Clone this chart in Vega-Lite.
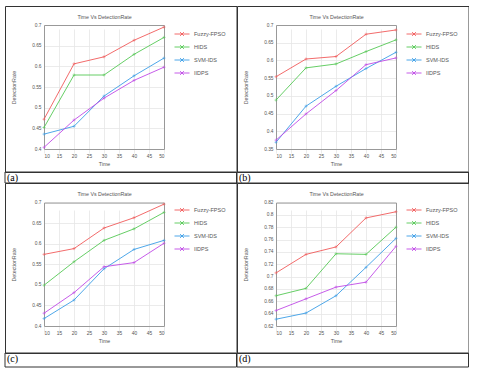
{
  "$schema": "https://vega.github.io/schema/vega-lite/v6.json",
  "background": "white",
  "padding": {"left": 4, "top": 5, "right": 0, "bottom": 0},
  "datasets": {
    "rates": [
      {"p": "a", "m": "Fuzzy-FPSO", "t": 10, "r": 0.472},
      {"p": "a", "m": "Fuzzy-FPSO", "t": 20, "r": 0.606},
      {"p": "a", "m": "Fuzzy-FPSO", "t": 30, "r": 0.623},
      {"p": "a", "m": "Fuzzy-FPSO", "t": 40, "r": 0.663},
      {"p": "a", "m": "Fuzzy-FPSO", "t": 50, "r": 0.695},
      {"p": "a", "m": "HIDS", "t": 10, "r": 0.452},
      {"p": "a", "m": "HIDS", "t": 20, "r": 0.579},
      {"p": "a", "m": "HIDS", "t": 30, "r": 0.579},
      {"p": "a", "m": "HIDS", "t": 40, "r": 0.629},
      {"p": "a", "m": "HIDS", "t": 50, "r": 0.670},
      {"p": "a", "m": "SVM-IDS", "t": 10, "r": 0.436},
      {"p": "a", "m": "SVM-IDS", "t": 20, "r": 0.455},
      {"p": "a", "m": "SVM-IDS", "t": 30, "r": 0.528},
      {"p": "a", "m": "SVM-IDS", "t": 40, "r": 0.577},
      {"p": "a", "m": "SVM-IDS", "t": 50, "r": 0.620},
      {"p": "a", "m": "IIDPS", "t": 10, "r": 0.404},
      {"p": "a", "m": "IIDPS", "t": 20, "r": 0.470},
      {"p": "a", "m": "IIDPS", "t": 30, "r": 0.523},
      {"p": "a", "m": "IIDPS", "t": 40, "r": 0.566},
      {"p": "a", "m": "IIDPS", "t": 50, "r": 0.598},
      {"p": "b", "m": "Fuzzy-FPSO", "t": 10, "r": 0.554},
      {"p": "b", "m": "Fuzzy-FPSO", "t": 20, "r": 0.604},
      {"p": "b", "m": "Fuzzy-FPSO", "t": 30, "r": 0.611},
      {"p": "b", "m": "Fuzzy-FPSO", "t": 40, "r": 0.674},
      {"p": "b", "m": "Fuzzy-FPSO", "t": 50, "r": 0.686},
      {"p": "b", "m": "HIDS", "t": 10, "r": 0.488},
      {"p": "b", "m": "HIDS", "t": 20, "r": 0.579},
      {"p": "b", "m": "HIDS", "t": 30, "r": 0.590},
      {"p": "b", "m": "HIDS", "t": 40, "r": 0.625},
      {"p": "b", "m": "HIDS", "t": 50, "r": 0.658},
      {"p": "b", "m": "SVM-IDS", "t": 10, "r": 0.369},
      {"p": "b", "m": "SVM-IDS", "t": 20, "r": 0.471},
      {"p": "b", "m": "SVM-IDS", "t": 30, "r": 0.527},
      {"p": "b", "m": "SVM-IDS", "t": 40, "r": 0.577},
      {"p": "b", "m": "SVM-IDS", "t": 50, "r": 0.623},
      {"p": "b", "m": "IIDPS", "t": 10, "r": 0.375},
      {"p": "b", "m": "IIDPS", "t": 20, "r": 0.449},
      {"p": "b", "m": "IIDPS", "t": 30, "r": 0.515},
      {"p": "b", "m": "IIDPS", "t": 40, "r": 0.588},
      {"p": "b", "m": "IIDPS", "t": 50, "r": 0.607},
      {"p": "c", "m": "Fuzzy-FPSO", "t": 10, "r": 0.574},
      {"p": "c", "m": "Fuzzy-FPSO", "t": 20, "r": 0.588},
      {"p": "c", "m": "Fuzzy-FPSO", "t": 30, "r": 0.638},
      {"p": "c", "m": "Fuzzy-FPSO", "t": 40, "r": 0.663},
      {"p": "c", "m": "Fuzzy-FPSO", "t": 50, "r": 0.696},
      {"p": "c", "m": "HIDS", "t": 10, "r": 0.499},
      {"p": "c", "m": "HIDS", "t": 20, "r": 0.556},
      {"p": "c", "m": "HIDS", "t": 30, "r": 0.608},
      {"p": "c", "m": "HIDS", "t": 40, "r": 0.636},
      {"p": "c", "m": "HIDS", "t": 50, "r": 0.676},
      {"p": "c", "m": "SVM-IDS", "t": 10, "r": 0.418},
      {"p": "c", "m": "SVM-IDS", "t": 20, "r": 0.463},
      {"p": "c", "m": "SVM-IDS", "t": 30, "r": 0.539},
      {"p": "c", "m": "SVM-IDS", "t": 40, "r": 0.586},
      {"p": "c", "m": "SVM-IDS", "t": 50, "r": 0.608},
      {"p": "c", "m": "IIDPS", "t": 10, "r": 0.431},
      {"p": "c", "m": "IIDPS", "t": 20, "r": 0.481},
      {"p": "c", "m": "IIDPS", "t": 30, "r": 0.544},
      {"p": "c", "m": "IIDPS", "t": 40, "r": 0.554},
      {"p": "c", "m": "IIDPS", "t": 50, "r": 0.601},
      {"p": "d", "m": "Fuzzy-FPSO", "t": 10, "r": 0.706},
      {"p": "d", "m": "Fuzzy-FPSO", "t": 20, "r": 0.736},
      {"p": "d", "m": "Fuzzy-FPSO", "t": 30, "r": 0.748},
      {"p": "d", "m": "Fuzzy-FPSO", "t": 40, "r": 0.795},
      {"p": "d", "m": "Fuzzy-FPSO", "t": 50, "r": 0.805},
      {"p": "d", "m": "HIDS", "t": 10, "r": 0.669},
      {"p": "d", "m": "HIDS", "t": 20, "r": 0.681},
      {"p": "d", "m": "HIDS", "t": 30, "r": 0.737},
      {"p": "d", "m": "HIDS", "t": 40, "r": 0.736},
      {"p": "d", "m": "HIDS", "t": 50, "r": 0.780},
      {"p": "d", "m": "SVM-IDS", "t": 10, "r": 0.631},
      {"p": "d", "m": "SVM-IDS", "t": 20, "r": 0.641},
      {"p": "d", "m": "SVM-IDS", "t": 30, "r": 0.669},
      {"p": "d", "m": "SVM-IDS", "t": 40, "r": 0.715},
      {"p": "d", "m": "SVM-IDS", "t": 50, "r": 0.762},
      {"p": "d", "m": "IIDPS", "t": 10, "r": 0.645},
      {"p": "d", "m": "IIDPS", "t": 20, "r": 0.664},
      {"p": "d", "m": "IIDPS", "t": 30, "r": 0.683},
      {"p": "d", "m": "IIDPS", "t": 40, "r": 0.691},
      {"p": "d", "m": "IIDPS", "t": 50, "r": 0.749}
    ],
    "blank": [{"k": 1}]
  },
  "columns": 2,
  "spacing": 0,
  "bounds": "flush",
  "resolve": {"scale": {"x": "independent", "y": "independent", "color": "independent"}, "legend": {"color": "independent"}, "axis": {"x": "independent", "y": "independent"}},
  "concat": [
    {
      "width": 231.5, "height": 166,
      "title": {"text": "(a)", "orient": "bottom", "anchor": "start", "frame": "group", "offset": 8.5, "baseline": "alphabetic", "dx": 2, "font": "Liberation Serif", "fontSize": 10, "fontWeight": "normal", "color": "#000"},
      "data": {"name": "rates"},
      "transform": [{"filter": "datum.p == 'a'"}],
      "layer": [
        {
          "mark": {"type": "line", "strokeWidth": 0.9},
          "encoding": {
            "x": {"field": "t", "type": "quantitative", "scale": {"domain": [10, 50], "range": [39, 159], "nice": false, "zero": false},
              "axis": {"orient": "bottom", "offset": -23, "values": [10, 15, 20, 25, 30, 35, 40, 45, 50], "title": "Time", "grid": true, "labelPadding": 4, "titlePadding": 4}},
            "y": {"field": "r", "type": "quantitative", "scale": {"domain": [0.4, 0.7], "range": [143, 19], "nice": false, "zero": false},
              "axis": {"orient": "left", "offset": -39, "values": [0.4, 0.45, 0.5, 0.55, 0.6, 0.65, 0.7], "format": "~g", "title": "DetectionRate", "grid": true, "labelPadding": 3, "titlePadding": 15}},
            "color": {"field": "m", "type": "nominal",
              "scale": {"domain": ["Fuzzy-FPSO", "HIDS", "SVM-IDS", "IIDPS"], "range": ["#f05a5a", "#55c855", "#3a9de6", "#c04ae6"]},
              "legend": {"orient": "none", "legendX": 169, "legendY": 20, "title": null, "symbolType": "M-1,0L1,0M-0.25,-0.25L0.25,0.25M-0.25,0.25L0.25,-0.25", "symbolSize": 225, "symbolStrokeWidth": 0.9, "labelFontSize": 5.5, "labelColor": "#555", "labelFont": "Liberation Sans", "labelOffset": 4, "rowPadding": 1}}
          }
        },
        {
          "mark": {"type": "point", "filled": false, "shape": "M-1,0L1,0M0,-1L0,1", "size": 9, "strokeWidth": 0.8},
          "encoding": {
            "x": {"field": "t", "type": "quantitative", "axis": {"orient": "top", "offset": -19, "labels": false, "grid": false, "title": "Time Vs DetectionRate", "titlePadding": 6}},
            "y": {"field": "r", "type": "quantitative", "axis": {"orient": "right", "offset": -72.5, "labels": false, "grid": false, "title": null}},
            "color": {"field": "m", "type": "nominal", "legend": null}
          }
        }
      ]
    },
    {
      "width": 231.5, "height": 166,
      "title": {"text": "(b)", "orient": "bottom", "anchor": "start", "frame": "group", "offset": 8.5, "baseline": "alphabetic", "dx": 2, "font": "Liberation Serif", "fontSize": 10, "fontWeight": "normal", "color": "#000"},
      "data": {"name": "rates"},
      "transform": [{"filter": "datum.p == 'b'"}],
      "layer": [
        {
          "mark": {"type": "line", "strokeWidth": 0.9},
          "encoding": {
            "x": {"field": "t", "type": "quantitative", "scale": {"domain": [10, 50], "range": [39, 159], "nice": false, "zero": false},
              "axis": {"orient": "bottom", "offset": -23, "values": [10, 15, 20, 25, 30, 35, 40, 45, 50], "title": "Time", "grid": true, "labelPadding": 4, "titlePadding": 4}},
            "y": {"field": "r", "type": "quantitative", "scale": {"domain": [0.35, 0.7], "range": [143, 19], "nice": false, "zero": false},
              "axis": {"orient": "left", "offset": -39, "values": [0.35, 0.4, 0.45, 0.5, 0.55, 0.6, 0.65, 0.7], "format": "~g", "title": "DetectionRate", "grid": true, "labelPadding": 3, "titlePadding": 15}},
            "color": {"field": "m", "type": "nominal",
              "scale": {"domain": ["Fuzzy-FPSO", "HIDS", "SVM-IDS", "IIDPS"], "range": ["#f05a5a", "#55c855", "#3a9de6", "#c04ae6"]},
              "legend": {"orient": "none", "legendX": 169, "legendY": 20, "title": null, "symbolType": "M-1,0L1,0M-0.25,-0.25L0.25,0.25M-0.25,0.25L0.25,-0.25", "symbolSize": 225, "symbolStrokeWidth": 0.9, "labelFontSize": 5.5, "labelColor": "#555", "labelFont": "Liberation Sans", "labelOffset": 4, "rowPadding": 1}}
          }
        },
        {
          "mark": {"type": "point", "filled": false, "shape": "M-1,0L1,0M0,-1L0,1", "size": 9, "strokeWidth": 0.8},
          "encoding": {
            "x": {"field": "t", "type": "quantitative", "axis": {"orient": "top", "offset": -19, "labels": false, "grid": false, "title": "Time Vs DetectionRate", "titlePadding": 6}},
            "y": {"field": "r", "type": "quantitative", "axis": {"orient": "right", "offset": -72.5, "labels": false, "grid": false, "title": null}},
            "color": {"field": "m", "type": "nominal", "legend": null}
          }
        }
      ]
    },
    {"width": 231.5, "height": 11, "data": {"name": "blank"}, "mark": {"type": "rect", "fill": "white", "fillOpacity": 0, "stroke": "#333", "strokeWidth": 1}},
    {"width": 231.5, "height": 11, "data": {"name": "blank"}, "mark": {"type": "rect", "fill": "white", "fillOpacity": 0, "stroke": "#333", "strokeWidth": 1}},
    {
      "width": 231.5, "height": 170,
      "title": {"text": "(c)", "orient": "bottom", "anchor": "start", "frame": "group", "offset": 9, "baseline": "alphabetic", "dx": 2, "font": "Liberation Serif", "fontSize": 10, "fontWeight": "normal", "color": "#000"},
      "data": {"name": "rates"},
      "transform": [{"filter": "datum.p == 'c'"}],
      "layer": [
        {
          "mark": {"type": "line", "strokeWidth": 0.9},
          "encoding": {
            "x": {"field": "t", "type": "quantitative", "scale": {"domain": [10, 50], "range": [39, 159], "nice": false, "zero": false},
              "axis": {"orient": "bottom", "offset": -27, "values": [10, 15, 20, 25, 30, 35, 40, 45, 50], "title": "Time", "grid": true, "labelPadding": 4, "titlePadding": 4}},
            "y": {"field": "r", "type": "quantitative", "scale": {"domain": [0.4, 0.7], "range": [143, 19.5], "nice": false, "zero": false},
              "axis": {"orient": "left", "offset": -39, "values": [0.4, 0.45, 0.5, 0.55, 0.6, 0.65, 0.7], "format": "~g", "title": "DetectionRate", "grid": true, "labelPadding": 3, "titlePadding": 15}},
            "color": {"field": "m", "type": "nominal",
              "scale": {"domain": ["Fuzzy-FPSO", "HIDS", "SVM-IDS", "IIDPS"], "range": ["#f05a5a", "#55c855", "#3a9de6", "#c04ae6"]},
              "legend": {"orient": "none", "legendX": 169, "legendY": 19, "title": null, "symbolType": "M-1,0L1,0M-0.25,-0.25L0.25,0.25M-0.25,0.25L0.25,-0.25", "symbolSize": 225, "symbolStrokeWidth": 0.9, "labelFontSize": 5.5, "labelColor": "#555", "labelFont": "Liberation Sans", "labelOffset": 4, "rowPadding": 1}}
          }
        },
        {
          "mark": {"type": "point", "filled": false, "shape": "M-1,0L1,0M0,-1L0,1", "size": 9, "strokeWidth": 0.8},
          "encoding": {
            "x": {"field": "t", "type": "quantitative", "axis": {"orient": "top", "offset": -19.5, "labels": false, "grid": false, "title": "Time Vs DetectionRate", "titlePadding": 6}},
            "y": {"field": "r", "type": "quantitative", "axis": {"orient": "right", "offset": -72.5, "labels": false, "grid": false, "title": null}},
            "color": {"field": "m", "type": "nominal", "legend": null}
          }
        }
      ]
    },
    {
      "width": 231.5, "height": 170,
      "title": {"text": "(d)", "orient": "bottom", "anchor": "start", "frame": "group", "offset": 9, "baseline": "alphabetic", "dx": 2, "font": "Liberation Serif", "fontSize": 10, "fontWeight": "normal", "color": "#000"},
      "data": {"name": "rates"},
      "transform": [{"filter": "datum.p == 'd'"}],
      "layer": [
        {
          "mark": {"type": "line", "strokeWidth": 0.9},
          "encoding": {
            "x": {"field": "t", "type": "quantitative", "scale": {"domain": [10, 50], "range": [39, 159], "nice": false, "zero": false},
              "axis": {"orient": "bottom", "offset": -27, "values": [10, 15, 20, 25, 30, 35, 40, 45, 50], "title": "Time", "grid": true, "labelPadding": 4, "titlePadding": 4}},
            "y": {"field": "r", "type": "quantitative", "scale": {"domain": [0.62, 0.82], "range": [143, 19.5], "nice": false, "zero": false},
              "axis": {"orient": "left", "offset": -39, "values": [0.62, 0.64, 0.66, 0.68, 0.7, 0.72, 0.74, 0.76, 0.78, 0.8, 0.82], "format": "~g", "title": "DetectionRate", "grid": true, "labelPadding": 3, "titlePadding": 15}},
            "color": {"field": "m", "type": "nominal",
              "scale": {"domain": ["Fuzzy-FPSO", "HIDS", "SVM-IDS", "IIDPS"], "range": ["#f05a5a", "#55c855", "#3a9de6", "#c04ae6"]},
              "legend": {"orient": "none", "legendX": 169, "legendY": 19, "title": null, "symbolType": "M-1,0L1,0M-0.25,-0.25L0.25,0.25M-0.25,0.25L0.25,-0.25", "symbolSize": 225, "symbolStrokeWidth": 0.9, "labelFontSize": 5.5, "labelColor": "#555", "labelFont": "Liberation Sans", "labelOffset": 4, "rowPadding": 1}}
          }
        },
        {
          "mark": {"type": "point", "filled": false, "shape": "M-1,0L1,0M0,-1L0,1", "size": 9, "strokeWidth": 0.8},
          "encoding": {
            "x": {"field": "t", "type": "quantitative", "axis": {"orient": "top", "offset": -19.5, "labels": false, "grid": false, "title": "Time Vs DetectionRate", "titlePadding": 6}},
            "y": {"field": "r", "type": "quantitative", "axis": {"orient": "right", "offset": -72.5, "labels": false, "grid": false, "title": null}},
            "color": {"field": "m", "type": "nominal", "legend": null}
          }
        }
      ]
    },
    {"width": 231.5, "height": 14, "data": {"name": "blank"}, "mark": {"type": "rect", "fill": "white", "fillOpacity": 0, "stroke": "#333", "strokeWidth": 1}},
    {"width": 231.5, "height": 14, "data": {"name": "blank"}, "mark": {"type": "rect", "fill": "white", "fillOpacity": 0, "stroke": "#333", "strokeWidth": 1}}
  ],
  "config": {
    "view": {"stroke": "#333", "strokeWidth": 1},
    "axis": {
      "labelFont": "Liberation Sans", "labelFontSize": 4.8, "labelColor": "#555",
      "titleFont": "Liberation Sans", "titleFontSize": 5.3, "titleFontWeight": "normal", "titleColor": "#555",
      "domainColor": "#999", "domainWidth": 1, "gridColor": "#e6e6e6", "gridWidth": 0.8, "ticks": false
    }
  }
}
